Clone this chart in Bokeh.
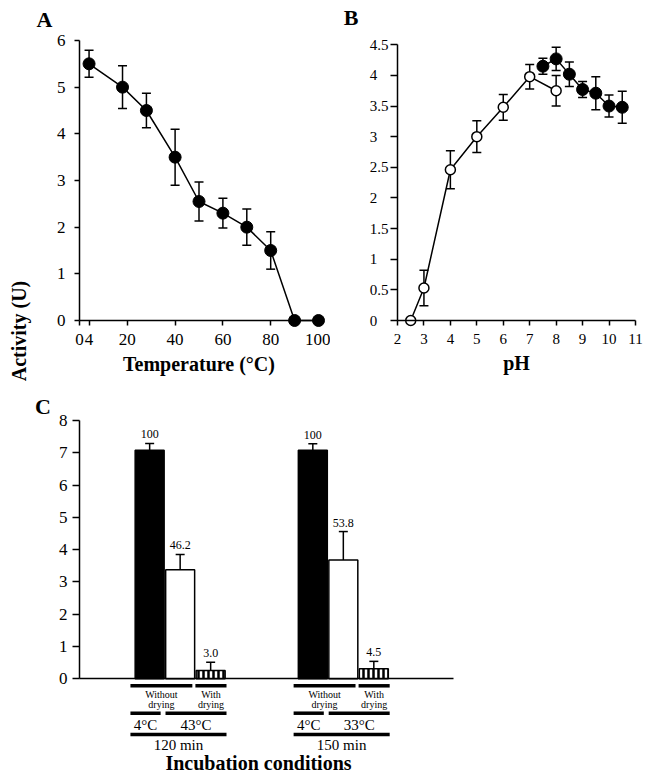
import math
from bokeh.plotting import figure
from bokeh.layouts import column, row
from bokeh.models import ColumnDataSource, Whisker, TeeHead, Label, FixedTicker, Range1d
from bokeh.embed import file_html
from bokeh.resources import INLINE
from bokeh.core.properties import value

# ---------------- Panel A data (temperature) ----------------
temperature_c = [4, 18, 28, 40, 50, 60, 70, 80, 90, 100]
temp_activity = [5.5, 5.0, 4.5, 3.5, 2.55, 2.3, 2.0, 1.5, 0.0, 0.0]
temp_error = [0.29, 0.46, 0.37, 0.60, 0.42, 0.32, 0.39, 0.40, 0.0, 0.0]
temp_ticks = [0, 4, 20, 40, 60, 80, 100]
activity_ticks_a = [0, 1, 2, 3, 4, 5, 6]

# ---------------- Panel B data (pH) ----------------
ph_open = [2.5, 3, 4, 5, 6, 7, 8]
activity_open = [0.0, 0.53, 2.46, 3.0, 3.48, 3.98, 3.75]
error_open = [0.0, 0.29, 0.31, 0.26, 0.21, 0.20, 0.25]
ph_filled = [7.5, 8, 8.5, 9, 9.5, 10, 10.5]
activity_filled = [4.15, 4.27, 4.02, 3.77, 3.71, 3.50, 3.48]
error_filled = [0.13, 0.19, 0.20, 0.13, 0.27, 0.18, 0.26]
ph_ticks = [2, 3, 4, 5, 6, 7, 8, 9, 10, 11]
activity_ticks_b = [0, 0.5, 1, 1.5, 2, 2.5, 3, 3.5, 4, 4.5]

# ---------------- Panel C data (incubation) ----------------
time_labels = ["120 min", "150 min"]
temp_labels = [["4°C", "43°C"], ["4°C", "33°C"]]
drying_labels = ["Without drying", "With drying"]
bar_activity = [[7.08, 3.38, 0.26], [7.08, 3.68, 0.31]]
bar_error = [[0.21, 0.47, 0.25], [0.20, 0.88, 0.23]]
bar_percent = [["100", "46.2", "3.0"], ["100", "53.8", "4.5"]]
activity_ticks_c = [0, 1, 2, 3, 4, 5, 6, 7, 8]

# ---------------- layout / style constants ----------------
SERIF = "Liberation Serif"
ROW1_H = 392
A_W = 330
B_W = 648 - A_W
C_W, C_H = 648, 777 - ROW1_H
C_TOP = ROW1_H  # page y of panel C's top

# (pixel of origin inside figure, origin value, pixels per unit)
A_OX, A_OY, A_X0, A_Y0, A_SX, A_SY = 79, 320, 0.0, 0.0, 2.39, 46.67
B_OX, B_OY, B_X0, B_Y0, B_SX, B_SY = 67, 320, 2.0, 0.0, 26.44, 61.27
C_OX, C_OY, C_X0, C_Y0, C_SX, C_SY = 79, 678.3 - C_TOP, 0.0, 0.0, 30.5, 32.29

GROUP_CENTER = [3.3, 8.65]
BAR_OFFSET = [-1, 0, 1]
BAR_WIDTH = 0.95
C_AXIS_END = 12.26
SPAN_L1 = [(-1.63, 0.40), (0.50, 1.52)]
SPAN_L2 = [(-1.63, -0.64), (-0.48, 1.52)]
SPAN_L3 = [(-1.63, 1.52)]


class Panel:
    def __init__(self, w, h, ox, oy, x0, y0, sx, sy):
        self.ox, self.oy, self.x0, self.y0, self.sx, self.sy = ox, oy, x0, y0, sx, sy
        xr = Range1d(x0 - ox / sx, x0 + (w - ox) / sx)
        yr = Range1d(y0 - (h - oy) / sy, y0 + oy / sy)
        p = figure(width=w, height=h, x_range=xr, y_range=yr, output_backend="svg",
                   toolbar_location=None, min_border=0, min_border_left=0,
                   min_border_right=0, min_border_top=0, min_border_bottom=0)
        p.outline_line_color = None
        p.grid.visible = False
        p.background_fill_color = "white"
        p.border_fill_color = "white"
        self.p = p

    def dx(self, px):
        return self.x0 + (px - self.ox) / self.sx

    def dy(self, py):
        return self.y0 - (py - self.oy) / self.sy


def style_axis(ax, size, tick_out=5, standoff=7):
    ax.axis_line_width = 1.5
    ax.axis_line_color = "black"
    ax.major_tick_line_width = 1.5
    ax.major_tick_line_color = "black"
    ax.major_tick_in = 0
    ax.major_tick_out = tick_out
    ax.minor_tick_line_color = None
    ax.major_label_standoff = standoff
    ax.major_label_text_font = SERIF
    ax.major_label_text_font_size = f"{size}px"
    ax.major_label_text_color = "black"
    ax.axis_label_text_font = SERIF
    ax.axis_label_text_font_style = "bold"
    ax.axis_label_text_font_size = "20px"
    ax.axis_label_text_color = "black"
    ax.axis_label_standoff = 5


def bold_label(panel, px, py, text, size="22px", angle=0.0):
    panel.p.add_layout(Label(x=panel.dx(px), y=panel.dy(py), text=text, text_font=SERIF,
                             text_font_style="bold", text_font_size=size, text_align="center",
                             text_baseline="middle", text_color="black", angle=angle))


def whisker(p, base, lo, hi, lower=True):
    src = ColumnDataSource(dict(base=base, lo=lo, hi=hi))
    w = Whisker(base="base", lower="lo", upper="hi", source=src, dimension="height",
                line_width=1.5, line_color="black", level="underlay",
                upper_head=TeeHead(size=9, line_width=1.5, line_color="black"),
                lower_head=TeeHead(size=9, line_width=1.5, line_color="black") if lower else None)
    p.add_layout(w)


# ================= Panel A =================
A = Panel(A_W, ROW1_H, A_OX, A_OY, A_X0, A_Y0, A_SX, A_SY)
pA = A.p
style_axis(pA.xaxis[0], 17, standoff=8)
style_axis(pA.yaxis[0], 17, standoff=9)
pA.xaxis.ticker = FixedTicker(ticks=temp_ticks)
pA.xaxis.fixed_location = 0
pA.xaxis.bounds = (0, 100)
pA.xaxis.axis_label = "Temperature (°C)"
pA.yaxis.ticker = FixedTicker(ticks=activity_ticks_a)
pA.yaxis.fixed_location = 0
pA.yaxis.bounds = (0, 6)

ia = [i for i, e in enumerate(temp_error) if e > 0]
whisker(pA, [temperature_c[i] for i in ia],
        [temp_activity[i] - temp_error[i] for i in ia],
        [temp_activity[i] + temp_error[i] for i in ia])
pA.line(temperature_c, temp_activity, line_color="black", line_width=1.5)
pA.scatter(temperature_c, temp_activity, marker="circle", size=12,
           fill_color="black", line_color="black")
bold_label(A, 44, 19, "A")
bold_label(A, 18, 330.5, "Activity (U)", size="20px", angle=math.pi / 2)

# ================= Panel B =================
B = Panel(B_W, ROW1_H, B_OX, B_OY, B_X0, B_Y0, B_SX, B_SY)
pB = B.p
style_axis(pB.xaxis[0], 15, standoff=8)
style_axis(pB.yaxis[0], 15, tick_out=7, standoff=2)
pB.xaxis.ticker = FixedTicker(ticks=ph_ticks)
pB.xaxis.fixed_location = 0
pB.xaxis.bounds = (2, 11)
pB.xaxis.axis_label = "pH"
pB.yaxis.ticker = FixedTicker(ticks=activity_ticks_b)
pB.yaxis.fixed_location = 2
pB.yaxis.bounds = (0, 4.5)
pB.yaxis.major_label_overrides = {
    v: (f"{int(v)}\u2008\u2007" if float(v).is_integer() else f"{v}") for v in activity_ticks_b
}

io = [i for i, e in enumerate(error_open) if e > 0]
whisker(pB, [ph_open[i] for i in io],
        [activity_open[i] - error_open[i] for i in io],
        [activity_open[i] + error_open[i] for i in io])
whisker(pB, ph_filled,
        [a - e for a, e in zip(activity_filled, error_filled)],
        [a + e for a, e in zip(activity_filled, error_filled)])
pB.line(ph_open, activity_open, line_color="black", line_width=1.5)
pB.line(ph_filled, activity_filled, line_color="black", line_width=1.5)
pB.scatter(ph_open, activity_open, marker="circle", size=10, fill_color="white",
           line_color="black", line_width=1.5)
pB.scatter(ph_filled, activity_filled, marker="circle", size=12, fill_color="black",
           line_color="black")
bold_label(B, 20.5, 16.5, "B")

# ================= Panel C =================
C = Panel(C_W, C_H, C_OX, C_OY, C_X0, C_Y0, C_SX, C_SY)
pC = C.p
style_axis(pC.xaxis[0], 17)
style_axis(pC.yaxis[0], 17, tick_out=7, standoff=5)
pC.xaxis.ticker = FixedTicker(ticks=[])
pC.xaxis.fixed_location = 0
pC.xaxis.bounds = (0, C_AXIS_END)
pC.yaxis.ticker = FixedTicker(ticks=activity_ticks_c)
pC.yaxis.fixed_location = 0
pC.yaxis.bounds = (0, 8)

bar_styles = [
    dict(fill_color="black", line_color="black", line_width=1.5),
    dict(fill_color="white", line_color="black", line_width=1.5),
    dict(fill_color="white", line_color="black", line_width=1.5,
         hatch_pattern="vertical_line", hatch_color="black", hatch_weight=2.5, hatch_scale=5),
]
for k in range(3):
    xs = [GROUP_CENTER[g] + BAR_OFFSET[k] for g in range(len(time_labels))]
    tops = [bar_activity[g][k] for g in range(len(time_labels))]
    pC.vbar(x=xs, top=tops, bottom=0, width=BAR_WIDTH, **bar_styles[k])

wx, wlo, whi, wtxt = [], [], [], []
for g in range(len(time_labels)):
    for k in range(3):
        wx.append(GROUP_CENTER[g] + BAR_OFFSET[k])
        wlo.append(bar_activity[g][k])
        whi.append(bar_activity[g][k] + bar_error[g][k])
        wtxt.append(bar_percent[g][k])
whisker(pC, wx, wlo, whi, lower=False)
pC.text(x=wx, y=whi, text=wtxt, y_offset=-9, text_align="center", text_baseline="middle",
        text_font=value(SERIF), text_font_size=value("12px"), text_color="black")


def below(px):
    return -px / C_SY


seg_x0, seg_x1, seg_y = [], [], []
t_x, t_y, t_text, t_size = [], [], [], []
for g in range(len(time_labels)):
    c = GROUP_CENTER[g]
    for (s0, s1), lab in zip(SPAN_L1, drying_labels):
        seg_x0.append(c + s0); seg_x1.append(c + s1); seg_y.append(below(7))
        w1, w2 = lab.split(" ")
        for word, off in ((w1, 15.7), (w2, 25.7)):
            t_x.append(c + (s0 + s1) / 2); t_y.append(below(off)); t_text.append(word); t_size.append("10px")
    for (s0, s1), lab in zip(SPAN_L2, temp_labels[g]):
        seg_x0.append(c + s0); seg_x1.append(c + s1); seg_y.append(below(34.4))
        t_x.append(c + (s0 + s1) / 2); t_y.append(below(46.0)); t_text.append(lab); t_size.append("15px")
    for (s0, s1) in SPAN_L3:
        seg_x0.append(c + s0); seg_x1.append(c + s1); seg_y.append(below(55.7))
        t_x.append(c + (s0 + s1) / 2); t_y.append(below(66.0)); t_text.append(time_labels[g]); t_size.append("15px")

pC.segment(x0=seg_x0, y0=seg_y, x1=seg_x1, y1=seg_y, line_width=3.5, line_color="black",
           line_cap="butt")
pC.text(x=t_x, y=t_y, text=t_text, text_font_size=t_size, text_align="center",
        text_baseline="middle", text_font=value(SERIF), text_color="black")
pC.text(x=[C.dx(258)], y=[C.dy(762 - C_TOP)], text=["Incubation conditions"],
        text_align="center", text_baseline="middle", text_font=value(SERIF),
        text_font_style="bold", text_font_size=value("20px"), text_color="black")
bold_label(C, 42.5, 405.5 - C_TOP, "C")

layout = column(row(pA, pB), pC)
open("out.html", "w").write(file_html(layout, INLINE))
